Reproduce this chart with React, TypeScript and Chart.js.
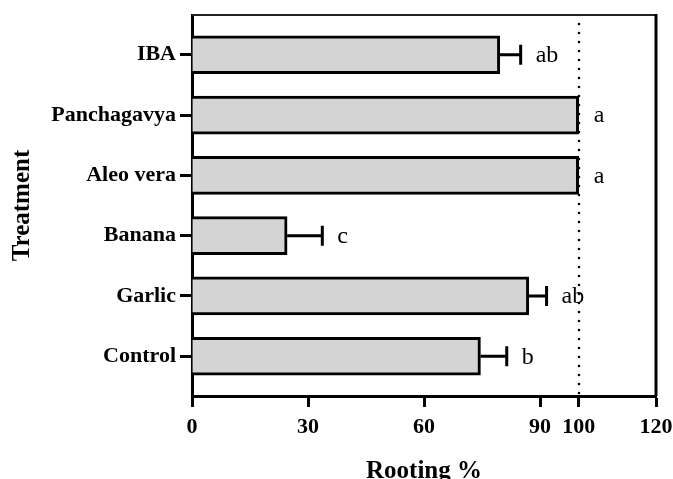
import React, { useEffect, useRef } from 'react';
import { Chart, registerables } from 'chart.js';

Chart.register(...registerables);

const categories = ['IBA', 'Panchagavya', 'Aleo vera', 'Banana', 'Garlic', 'Control'];
const rooting = [79.6, 100, 100, 24.6, 87.1, 74.6];
const errors = [5.4, 0, 0, 9.1, 4.6, 6.8];
const letters = ['ab', 'a', 'a', 'c', 'ab', 'b'];
const xTicks = [0, 30, 60, 90, 100, 120];
const refLine = 100;

const SERIF = '"Liberation Serif", "Times New Roman", serif';

const annotate = {
  id: 'annotate',
  afterDatasetsDraw(chart: any) {
    const { ctx, chartArea, scales } = chart;
    const x = scales.x;
    const y = scales.y;
    ctx.save();
    ctx.strokeStyle = '#000';
    ctx.fillStyle = '#000';
    ctx.lineWidth = 3;
    ctx.lineCap = 'butt';
    ctx.font = `24px ${SERIF}`;
    ctx.textAlign = 'left';
    ctx.textBaseline = 'middle';
    rooting.forEach((v, i) => {
      const yc = y.getPixelForValue(i);
      const x0 = x.getPixelForValue(v);
      const x1 = x.getPixelForValue(v + errors[i]);
      if (errors[i] > 0) {
        ctx.beginPath();
        ctx.moveTo(x0, yc);
        ctx.lineTo(x1, yc);
        ctx.moveTo(x1, yc - 10);
        ctx.lineTo(x1, yc + 10);
        ctx.stroke();
      }
      ctx.fillText(letters[i], x1 + 15, yc + 1);
    });
    // dotted reference line
    const xr = Math.round(x.getPixelForValue(refLine));
    ctx.setLineDash([0, 9]);
    ctx.lineCap = 'round';
    ctx.lineWidth = 2.6;
    ctx.beginPath();
    ctx.moveTo(xr, chartArea.top + 9);
    ctx.lineTo(xr, chartArea.bottom);
    ctx.stroke();
    ctx.setLineDash([]);
    ctx.lineCap = 'butt';
    // top and right frame
    ctx.lineWidth = 2;
    ctx.strokeStyle = '#222';
    ctx.beginPath();
    ctx.moveTo(chartArea.left, chartArea.top);
    ctx.lineTo(chartArea.right, chartArea.top);
    ctx.stroke();
    ctx.lineWidth = 3;
    ctx.strokeStyle = '#000';
    ctx.beginPath();
    ctx.moveTo(chartArea.right, chartArea.top - 1);
    ctx.lineTo(chartArea.right, chartArea.bottom);
    ctx.stroke();
    ctx.restore();
  },
};

export default function App() {
  const ref = useRef<HTMLCanvasElement | null>(null);

  useEffect(() => {
    const canvas = ref.current;
    if (!canvas) return;
    const chart = new Chart(canvas, {
      type: 'bar',
      data: {
        datasets: [
          {
            data: rooting.map((v, i) => ({ x: v, y: i })),
            backgroundColor: '#d4d4d4',
            borderColor: '#000',
            borderWidth: 3,
            barThickness: 38,
          },
        ],
      },
      options: {
        indexAxis: 'y',
        responsive: false,
        animation: false,
        layout: { padding: { top: 15, right: 17, left: 0, bottom: 0 } },
        plugins: { legend: { display: false }, tooltip: { enabled: false } },
        scales: {
          x: {
            type: 'linear',
            min: 0,
            max: 120,
            offset: false,
            afterBuildTicks: (s: any) => {
              s.ticks = xTicks.map((v) => ({ value: v }));
            },
            afterFit: (s: any) => {
              s.height = 83;
              s.paddingLeft = 0;
              s.paddingRight = 0;
            },
            grid: {
              offset: false,
              drawOnChartArea: false,
              drawTicks: true,
              tickLength: 11,
              tickWidth: 3,
              tickColor: '#000',
            },
            border: { display: true, width: 3, color: '#000' },
            ticks: {
              color: '#000',
              padding: 7,
              maxRotation: 0,
              autoSkip: false,
              font: { family: SERIF, size: 22, weight: 'bold' },
            },
            title: {
              display: true,
              text: 'Rooting %',
              color: '#000',
              font: { family: SERIF, size: 25, weight: 'bold', lineHeight: 0.6 },
              padding: { top: 0, bottom: 0 },
            },
          },
          y: {
            type: 'linear',
            reverse: true,
            min: -0.66,
            max: 5.66,
            offset: false,
            afterBuildTicks: (s: any) => {
              s.ticks = categories.map((_, i) => ({ value: i }));
            },
            afterFit: (s: any) => {
              s.width = 192;
              s.paddingTop = 0;
              s.paddingBottom = 0;
            },
            grid: {
              offset: false,
              drawOnChartArea: false,
              drawTicks: true,
              tickLength: 12,
              tickWidth: 3,
              tickColor: '#000',
            },
            border: { display: true, width: 3, color: '#000' },
            ticks: {
              color: '#000',
              padding: 4,
              autoSkip: false,
              callback: (v: any) => categories[v as number] ?? '',
              font: { family: SERIF, size: 22, weight: 'bold' },
            },
            title: {
              display: true,
              text: 'Treatment',
              color: '#000',
              font: { family: SERIF, size: 25, weight: 'bold', lineHeight: 1.2 },
              padding: { top: 8, bottom: 0 },
            },
          },
        },
      },
      plugins: [annotate],
    });
    return () => chart.destroy();
  }, []);

  return (
    <div style={{ position: 'fixed', left: 0, top: 0, width: 673, height: 479, background: '#fff' }}>
      <canvas ref={ref} width={673} height={479} />
    </div>
  );
}
